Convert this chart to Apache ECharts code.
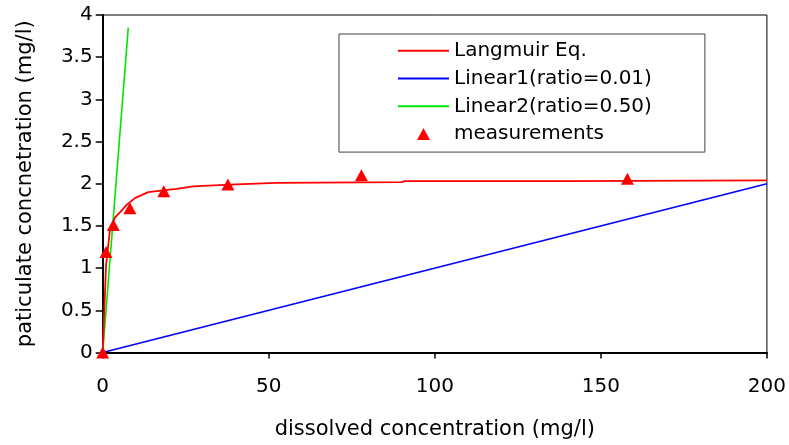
<!DOCTYPE html>
<html>
<head>
<meta charset="utf-8">
<script src="https://cdn.jsdelivr.net/npm/echarts@6/dist/echarts.min.js"></script>
<style>
html,body{margin:0;padding:0;background:#fff;}
#chart{width:789px;height:445px;}
</style>
</head>
<body>
<div id="chart"></div>
<script>
// Data
const seriesNames = ['Langmuir Eq.', 'Linear1(ratio=0.01)', 'Linear2(ratio=0.50)', 'measurements'];
const langmuirC = [0, 1, 2.2, 3.7, 5.2, 7.2, 9.7, 13.7, 22.2, 27.2, 38.2, 52.2, 90, 91, 140, 200];
const langmuirQ = [0, 1.03, 1.46, 1.60, 1.66, 1.75, 1.83, 1.90, 1.94, 1.97, 1.99, 2.01, 2.02, 2.03, 2.03, 2.04];
const linear1C = [0, 200];
const linear1Q = [0, 2.0];
const linear2C = [0, 7.7];
const linear2Q = [0, 3.85];
const measC = [0, 1, 3.2, 8.2, 18.4, 37.7, 77.9, 158];
const measQ = [0, 1.19, 1.51, 1.71, 1.91, 1.99, 2.10, 2.06];
const xTicks = [0, 50, 100, 150, 200];
const yTicks = [0, 0.5, 1, 1.5, 2, 2.5, 3, 3.5, 4];

const pair = (xs, ys) => xs.map((x, i) => [x, ys[i]]);
const FONT = 'DejaVu Sans';
const RED = '#ff0000', BLUE = '#0000ff', GREEN = '#00e600';
const lineIcon = 'path://M0,0 L51,0 L51,2 L0,2 Z';
const triIcon = 'path://M6.5,0 L13,12 L0,12 Z';

const chart = echarts.init(document.getElementById('chart'), null, {renderer: 'canvas'});
chart.setOption({
  animation: false,
  backgroundColor: '#fff',
  textStyle: {fontFamily: FONT},
  grid: {left: 102.7, right: 19, top: 15, bottom: 91, show: true, borderColor: '#000', borderWidth: 1, backgroundColor: '#fff'},
  legend: {
    left: 339, top: 34, orient: 'vertical',
    padding: [6.7, 53, 8, 59],
    itemWidth: 51, itemHeight: 12, itemGap: 7.8,
    symbolKeepAspect: true,
    borderColor: '#404040', borderWidth: 1, backgroundColor: '#fff',
    textStyle: {fontFamily: FONT, fontSize: 20, lineHeight: 20, color: '#000'},
    data: [
      {name: seriesNames[0], icon: lineIcon, itemStyle: {color: RED}},
      {name: seriesNames[1], icon: lineIcon, itemStyle: {color: BLUE}},
      {name: seriesNames[2], icon: lineIcon, itemStyle: {color: GREEN}},
      {name: seriesNames[3], icon: triIcon, itemStyle: {color: RED}}
    ]
  },
  xAxis: {
    type: 'value', min: xTicks[0], max: xTicks[xTicks.length - 1], interval: xTicks[1] - xTicks[0],
    name: 'dissolved concentration (mg/l)', nameLocation: 'middle', nameGap: 66.5,
    nameTextStyle: {fontFamily: FONT, fontSize: 21, color: '#000'},
    axisLine: {show: true, onZero: false, lineStyle: {color: '#000', width: 2}},
    axisTick: {show: true, inside: false, length: 6, lineStyle: {color: '#000', width: 1.5}},
    axisLabel: {margin: 24, fontFamily: FONT, fontSize: 20, color: '#000'},
    splitLine: {show: false}
  },
  yAxis: {
    type: 'value', min: yTicks[0], max: yTicks[yTicks.length - 1], interval: yTicks[1] - yTicks[0],
    name: 'paticulate concnetration (mg/l)', nameLocation: 'middle', nameGap: 67, nameRotate: 90,
    nameTextStyle: {fontFamily: FONT, fontSize: 21, color: '#000'},
    axisLine: {show: true, onZero: false, lineStyle: {color: '#000', width: 2}},
    axisTick: {show: true, inside: false, length: 7, lineStyle: {color: '#000', width: 1.5}},
    axisLabel: {margin: 10, fontFamily: FONT, fontSize: 20, color: '#000'},
    splitLine: {show: false}
  },
  series: [
    {name: seriesNames[0], type: 'line', data: pair(langmuirC, langmuirQ), symbol: 'none', showSymbol: false,
     lineStyle: {color: RED, width: 1.8}, itemStyle: {color: RED}, z: 3},
    {name: seriesNames[1], type: 'line', data: pair(linear1C, linear1Q), symbol: 'none', showSymbol: false,
     lineStyle: {color: BLUE, width: 1.8}, itemStyle: {color: BLUE}, z: 2},
    {name: seriesNames[2], type: 'line', data: pair(linear2C, linear2Q), symbol: 'none', showSymbol: false,
     lineStyle: {color: GREEN, width: 1.6}, itemStyle: {color: GREEN}, z: 2},
    {name: seriesNames[3], type: 'scatter', data: pair(measC, measQ), symbol: 'triangle', symbolSize: [13, 12],
     itemStyle: {color: RED, opacity: 1}, clip: false, z: 4}
  ]
});
</script>
</body>
</html>
